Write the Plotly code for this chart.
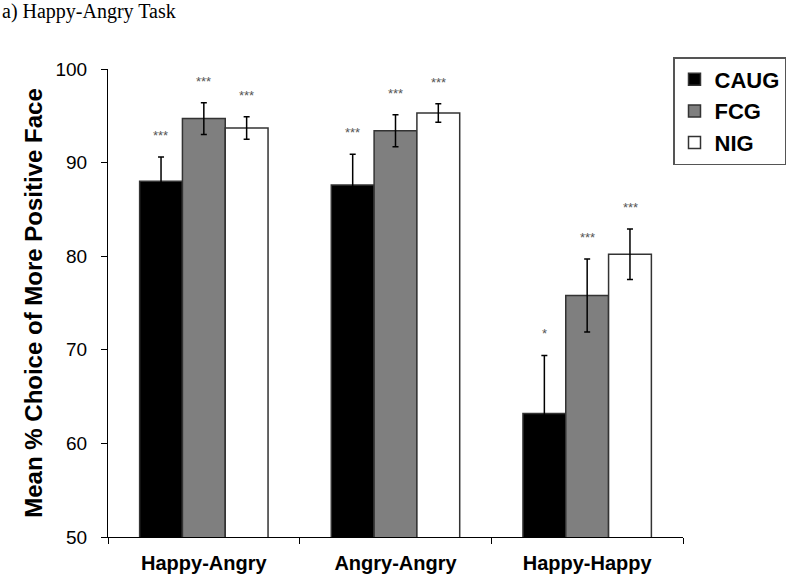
import plotly.graph_objects as go

categories = ["Happy-Angry", "Angry-Angry", "Happy-Happy"]
groups = ["CAUG", "FCG", "NIG"]
colors = ["#000000", "#7f7f7f", "#ffffff"]
caug = [88.0, 87.6, 63.2]
fcg = [94.7, 93.4, 75.8]
nig = [93.7, 95.3, 80.2]
caug_err = [2.6, 3.3, 6.2]
fcg_err = [1.7, 1.7, 3.9]
nig_err = [1.2, 1.0, 2.7]
caug_sig = ["***", "***", "*"]
fcg_sig = ["***", "***", "***"]
nig_sig = ["***", "***", "***"]

values = [caug, fcg, nig]
errors = [caug_err, fcg_err, nig_err]
sigs = [caug_sig, fcg_sig, nig_sig]

W, H = 800, 582
L, R, T, B = 108, 117, 69, 45
PW, PH = W - L - R, H - T - B

fig = go.Figure()
for g, c, v, e in zip(groups, colors, values, errors):
    fig.add_trace(go.Bar(
        name=g, x=categories, y=v,
        marker=dict(color=c, line=dict(color="#333333", width=1.5)),
        error_y=dict(type="data", array=e, visible=True, color="#000000", thickness=1.5, width=3),
    ))

bar_px = 43
for gi, (v, e, s) in enumerate(zip(values, errors, sigs)):
    for ci, cat in enumerate(categories):
        fig.add_annotation(
            x=cat, y=v[ci] + e[ci], xref="x", yref="y",
            text=s[ci], showarrow=False, yanchor="bottom",
            xshift=(gi - 1) * bar_px, yshift=12,
            font=dict(family="Arial", size=13, color="#555555"),
        )

fig.add_annotation(
    x=-L / PW, y=1 + (T - 11) / PH, xref="paper", yref="paper",
    xanchor="left", yanchor="middle",
    text="a) Happy-Angry Task", showarrow=False,
    font=dict(family="Liberation Serif", size=20, color="#000000"),
)

fig.update_layout(
    width=W, height=H,
    margin=dict(l=L, r=R, t=T, b=B, autoexpand=False),
    paper_bgcolor="white", plot_bgcolor="white",
    barmode="group", bargap=0.33, bargroupgap=0,
    font=dict(family="Arial", color="#000000"),
    legend=dict(
        x=(673 - L) / PW, y=1 + (T - 57) / PH, xanchor="left", yanchor="top",
        bordercolor="#555555", borderwidth=1.5,
        font=dict(family="Arial", size=22, color="#000000", weight="bold"),
        tracegroupgap=0,
    ),
    showlegend=True,
)
fig.update_yaxes(
    range=[50, 100], tickvals=[50, 60, 70, 80, 90, 100],
    showline=True, linecolor="#000000", linewidth=1,
    ticks="outside", ticklen=6, tickcolor="#000000",
    ticklabelstandoff=10,
    showgrid=False, zeroline=False,
    tickfont=dict(family="Arial", size=19, color="#000000"),
    title=dict(text="Mean % Choice of More Positive Face",
               font=dict(family="Arial", size=24, color="#000000", weight="bold"), standoff=6),
)
fig.update_xaxes(
    showline=True, linecolor="#000000", linewidth=1,
    ticks="outside", ticklen=6, tickcolor="#000000", tickson="boundaries",
    ticklabelstandoff=8,
    showgrid=False,
    tickfont=dict(family="Arial", size=20, color="#000000", weight="bold"),
)

fig.write_html(
    "out.html",
    config={"displayModeBar": False},
    post_script="document.body.style.margin='0';document.body.style.overflow='hidden';",
)
